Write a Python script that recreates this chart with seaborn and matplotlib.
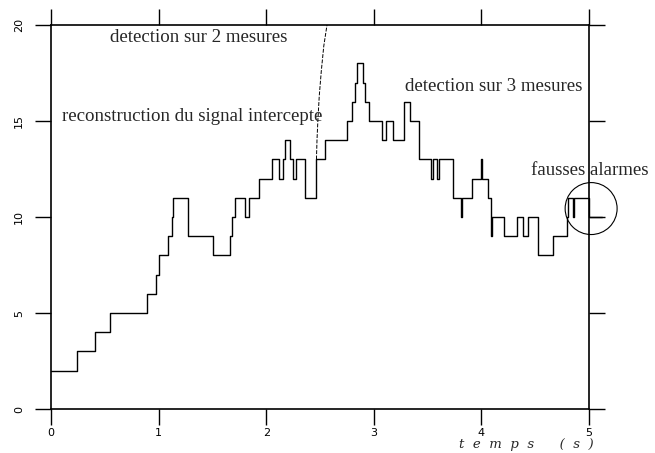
import pandas as pd
import seaborn as sns
import matplotlib.pyplot as plt

# reconstructed signal: step start times (s) and levels
t_steps = [0.0, 0.244, 0.409, 0.548, 0.889, 0.976, 1.006, 1.090, 1.125, 1.137,
           1.273, 1.508, 1.664, 1.679, 1.710, 1.803, 1.840, 1.933, 2.057, 2.122,
           2.153, 2.175, 2.221, 2.246, 2.277, 2.365, 2.467, 2.546, 2.748, 2.795,
           2.825, 2.841, 2.900, 2.921, 2.953, 3.072, 3.118, 3.183, 3.281, 3.336,
           3.420, 3.532, 3.553, 3.585, 3.606, 3.739, 3.810, 3.824, 3.910, 3.992,
           4.006, 4.064, 4.089, 4.103, 4.213, 4.328, 4.389, 4.436, 4.529, 4.661,
           4.793, 4.809, 4.847, 4.861, 5.0, 5.12]
levels = [2, 3, 4, 5, 6, 7, 8, 9, 10, 11,
          9, 8, 9, 10, 11, 10, 11, 12, 13, 12,
          13, 14, 13, 12, 13, 11, 13, 14, 15, 16,
          17, 18, 17, 16, 15, 14, 15, 14, 16, 15,
          13, 12, 13, 12, 13, 11, 10, 11, 12, 13,
          12, 11, 9, 10, 9, 10, 9, 10, 8, 9,
          10, 11, 10, 11, 10, 10]

# divergent track "detection sur 2 mesures"
t_det2 = [2.467, 2.472, 2.480, 2.493, 2.512, 2.535, 2.565]
y_det2 = [13.0, 14.0, 15.0, 16.3, 17.6, 18.9, 20.0]

x_ticks = [0, 1, 2, 3, 4, 5]
y_ticks = [0, 5, 10, 15, 20]

annotations = [
    ("detection sur 2 mesures", 0.55, 19.37),
    ("reconstruction du signal intercepte", 0.10, 15.25),
    ("detection sur 3 mesures", 3.29, 16.78),
    ("fausses alarmes", 4.46, 12.4),
]

sig = pd.DataFrame({"t": t_steps, "v": levels})
det = pd.DataFrame({"t": t_det2, "v": y_det2})

sns.set_style("ticks")
plt.rcParams["font.family"] = ["DejaVu Sans"]

fig = plt.figure(figsize=(6.55, 4.53), dpi=100)
ax = fig.add_axes([0.0779, 0.0971, 0.8213, 0.8477])

sns.lineplot(data=sig, x="t", y="v", ax=ax, color="black", lw=1.0,
             drawstyle="steps-post", estimator=None, sort=False, clip_on=False)
sns.lineplot(data=det, x="t", y="v", ax=ax, color="black", lw=0.7,
             linestyle=(0, (4, 1.5)), estimator=None, sort=False, clip_on=False)

# circle around the false alarms
ax.scatter([5.02], [10.44], s=1400, facecolors="none", edgecolors="black",
           linewidths=0.8, clip_on=False, zorder=3)

for txt, x, y in annotations:
    ax.text(x, y, txt, ha="left", va="center", fontsize=13.6,
            family=["Liberation Serif"])

ax.set_xlim(0, 5)
ax.set_ylim(0, 20)
ax.set_xticks(x_ticks)
ax.set_yticks(y_ticks)
ax.set_xticklabels([str(v) for v in x_ticks])
ax.set_yticklabels([str(v) for v in y_ticks], rotation=90, va="center")
ax.tick_params(direction="out", length=11.5, width=1.0, top=True, right=True,
               labeltop=False, labelright=False, labelsize=8, colors="black")
ax.tick_params(axis="y", pad=8)
ax.tick_params(axis="x", pad=2)
for s in ax.spines.values():
    s.set_linewidth(1.2)
    s.set_color("black")

ax.set_xlabel("")
ax.set_ylabel("")
ax.text(1.008, -0.1016, "t  e  m  p  s      (  s  )", transform=ax.transAxes,
        ha="right", va="baseline", fontsize=9.5, style="italic",
        family=["DejaVu Serif"])

plt.savefig("out.png", dpi=100)
